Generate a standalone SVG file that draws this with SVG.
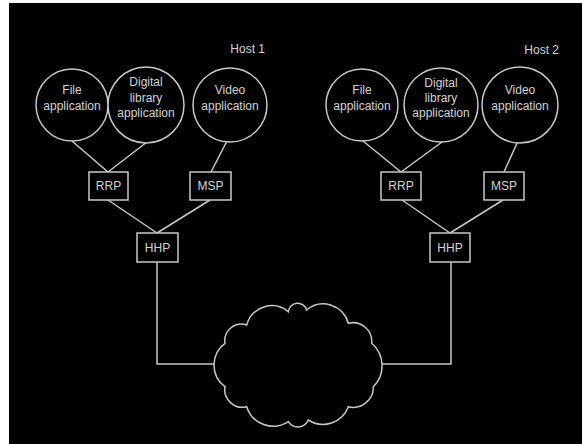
<svg xmlns="http://www.w3.org/2000/svg" width="582" height="444" viewBox="0 0 582 444">
<style>
.s{fill:none;stroke:#c8c8c8;stroke-width:1.5}
.b{fill:#000;stroke:#c8c8c8;stroke-width:1.5}
text{font-family:"Liberation Sans",Arial,sans-serif;font-size:12px;fill:#d4d4d4;text-anchor:middle}
.h{text-anchor:end}
</style>
<rect x="0" y="0" width="582" height="444" fill="#fff"/>
<rect x="9" y="3" width="573" height="441" fill="#000"/>
<g id="connectors" class="s">
<path d="M72 141L108 172M147 142L108 172M227 141L211 172M108 200L157 233M210 200L157 233"/>
<path d="M363 141L401 172M442 142L401 172M518 141L504 172M402 200L450 233M503 200L450 233"/>
<path d="M157 262V364H214"/>
<path d="M451 262V364H382"/>
</g>
<g id="host1-label"><text class="h" x="265" y="53">Host 1</text></g>
<g id="host2-label"><text class="h" x="559" y="54">Host 2</text></g>
<g id="h1-file"><circle class="b" cx="72" cy="105" r="36"/><text x="72" y="94">File</text><text x="72" y="110">application</text></g>
<g id="h1-digital"><circle class="b" cx="146" cy="105" r="38"/><text x="146" y="86">Digital</text><text x="146" y="102">library</text><text x="146" y="117">application</text></g>
<g id="h1-video"><circle class="b" cx="230" cy="105" r="37"/><text x="230" y="94">Video</text><text x="230" y="110">application</text></g>
<g id="h1-rrp"><rect class="b" x="89" y="172" width="39" height="28"/><text x="108.5" y="190">RRP</text></g>
<g id="h1-msp"><rect class="b" x="190" y="172" width="41" height="28"/><text x="210.5" y="190">MSP</text></g>
<g id="h1-hhp"><rect class="b" x="137" y="233" width="41" height="29"/><text x="157.5" y="252">HHP</text></g>
<g id="h2-file"><circle class="b" cx="362" cy="105" r="36"/><text x="362" y="94">File</text><text x="362" y="110">application</text></g>
<g id="h2-digital"><circle class="b" cx="441" cy="105" r="37"/><text x="441" y="87">Digital</text><text x="441" y="102">library</text><text x="441" y="117">application</text></g>
<g id="h2-video"><circle class="b" cx="520" cy="105" r="38"/><text x="520" y="94">Video</text><text x="520" y="110">application</text></g>
<g id="h2-rrp"><rect class="b" x="381" y="172" width="40" height="28"/><text x="401" y="190">RRP</text></g>
<g id="h2-msp"><rect class="b" x="484" y="172" width="40" height="28"/><text x="504" y="190">MSP</text></g>
<g id="h2-hhp"><rect class="b" x="430" y="233" width="40" height="29"/><text x="450" y="252">HHP</text></g>
<g id="network"><path class="b" d="M225 386.7A26.9 26.9 0 0 1 225 343.3A16.6 16.6 0 0 1 246.7 325A25.9 25.9 0 0 1 288.3 311.7A9.4 9.4 0 0 1 306.7 310A25.9 25.9 0 0 1 348.3 323.3A18.8 18.8 0 0 1 371.7 343.3A29.5 29.5 0 0 1 373.3 386.7A20 20 0 0 1 348.3 406.7A27 27 0 0 1 308.3 420A11.3 11.3 0 0 1 288.3 421.7A27.7 27.7 0 0 1 246.7 406.7A17.6 17.6 0 0 1 225 386.7Z"/></g>
</svg>
